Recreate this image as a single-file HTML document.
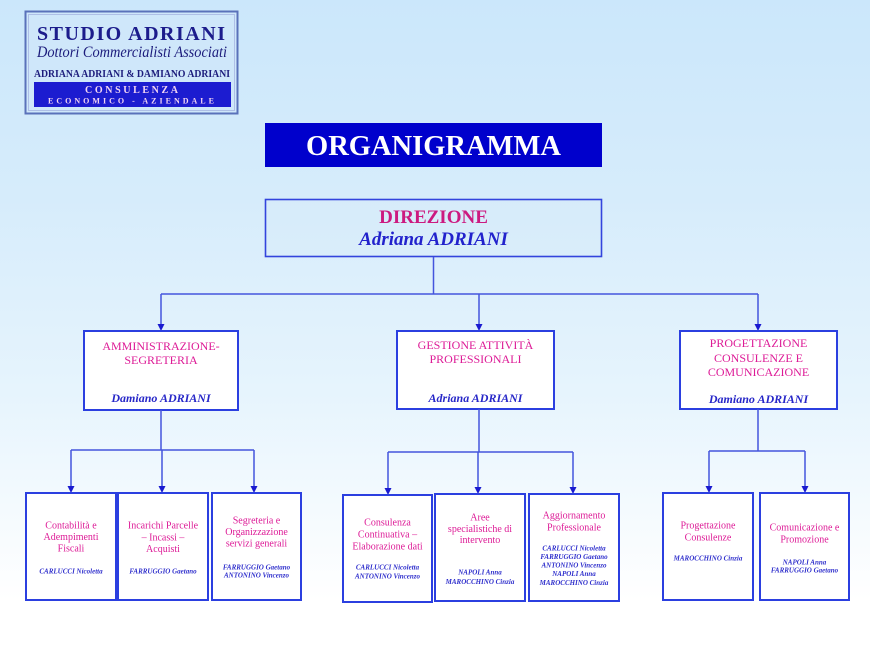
<!DOCTYPE html>
<html>
<head>
<meta charset="utf-8">
<style>
html,body{margin:0;padding:0;}
body{width:870px;height:653px;overflow:hidden;background:linear-gradient(to bottom,#cbe7fb 0%,#d6ecfb 30%,#e6f4fd 60%,#ffffff 92%,#ffffff 100%);}
svg{display:block;}
text{font-family:"Liberation Serif","DejaVu Serif",serif;}
.t{fill:#dd1a96;font-size:10px;}
.n{fill:#2f2fcc;font-size:7px;font-weight:bold;font-style:italic;}
.m{fill:#dd1a96;font-size:12px;}
.mn{fill:#2727c8;font-size:12px;font-weight:bold;font-style:italic;}
.box{fill:#ffffff;stroke:#2b3fe0;stroke-width:2;}
.ln{stroke:#4455dd;stroke-width:1.5;fill:none;}
.ar{fill:#1a1ad0;}
</style>
</head>
<body>
<svg width="870" height="653" viewBox="0 0 870 653" xmlns="http://www.w3.org/2000/svg">
  <!-- Logo -->
  <rect x="25.5" y="11.5" width="212" height="102" fill="#cfe7fa" stroke="#5a72ba" stroke-width="2"/>
  <rect x="28.5" y="14.5" width="206" height="96" fill="none" stroke="#aebfe6" stroke-width="1"/>
  <text x="131" y="40" text-anchor="middle" font-size="20" font-weight="bold" fill="#1c1c8c" textLength="188" lengthAdjust="spacing">STUDIO ADRIANI</text>
  <text x="132" y="57" text-anchor="middle" font-size="16" font-style="italic" fill="#1c1c7c" textLength="190" lengthAdjust="spacingAndGlyphs">Dottori Commercialisti Associati</text>
  <text x="132" y="77" text-anchor="middle" font-size="10" font-weight="bold" fill="#1c1c7c" textLength="196" lengthAdjust="spacingAndGlyphs">ADRIANA ADRIANI &amp; DAMIANO ADRIANI</text>
  <rect x="34" y="82" width="197" height="25" fill="#1c1cd0"/>
  <text x="131.5" y="93" text-anchor="middle" font-size="10" font-weight="bold" fill="#f2d4f2" textLength="93" lengthAdjust="spacing">CONSULENZA</text>
  <text x="131" y="103.5" text-anchor="middle" font-size="8" font-weight="bold" fill="#f2d4f2" textLength="166" lengthAdjust="spacing">ECONOMICO - AZIENDALE</text>

  <!-- Title -->
  <rect x="265" y="123" width="337" height="44" fill="#0000cc"/>
  <text x="433.5" y="155" text-anchor="middle" font-size="28.5" font-weight="bold" fill="#ffffff">ORGANIGRAMMA</text>

  <!-- Direzione -->
  <rect x="265.5" y="199.5" width="336" height="57" fill="#d8ecfb" fill-opacity="0.4" stroke="#3344dd" stroke-width="1.6"/>
  <text x="433.5" y="223" text-anchor="middle" font-size="19" font-weight="bold" fill="#cc1a80">DIREZIONE</text>
  <text x="433.5" y="245" text-anchor="middle" font-size="19" font-weight="bold" font-style="italic" fill="#2222cc">Adriana ADRIANI</text>

  <!-- Level 1 connectors -->
  <path class="ln" d="M433.5 257 V294 M161 294 H758 M161 294 V325 M479 294 V325 M758 294 V325"/>
  <polygon class="ar" points="157.5,324 164.5,324 161,331"/>
  <polygon class="ar" points="475.5,324 482.5,324 479,331"/>
  <polygon class="ar" points="754.5,324 761.5,324 758,331"/>

  <!-- Mid boxes -->
  <rect class="box" x="84" y="331" width="154" height="79"/>
  <text class="m" x="161" y="350" text-anchor="middle">AMMINISTRAZIONE-</text>
  <text class="m" x="161" y="364" text-anchor="middle">SEGRETERIA</text>
  <text class="mn" x="161" y="402" text-anchor="middle">Damiano ADRIANI</text>

  <rect class="box" x="397" y="331" width="157" height="78"/>
  <text class="m" x="475.5" y="349" text-anchor="middle">GESTIONE ATTIVITÀ</text>
  <text class="m" x="475.5" y="363" text-anchor="middle">PROFESSIONALI</text>
  <text class="mn" x="475.5" y="402" text-anchor="middle">Adriana ADRIANI</text>

  <rect class="box" x="680" y="331" width="157" height="78"/>
  <text class="m" x="758.5" y="347" text-anchor="middle">PROGETTAZIONE</text>
  <text class="m" x="758.5" y="362" text-anchor="middle">CONSULENZE E</text>
  <text class="m" x="758.5" y="376" text-anchor="middle">COMUNICAZIONE</text>
  <text class="mn" x="758.5" y="403" text-anchor="middle">Damiano ADRIANI</text>

  <!-- Level 2 connectors -->
  <path class="ln" d="M161 410 V450 M71 450 H254 M71 450 V486 M162 450 V486 M254 450 V486"/>
  <polygon class="ar" points="67.5,486 74.5,486 71,493"/>
  <polygon class="ar" points="158.5,486 165.5,486 162,493"/>
  <polygon class="ar" points="250.5,486 257.5,486 254,493"/>

  <path class="ln" d="M479 409 V452 M388 452 H573 M388 452 V488 M478 452 V487 M573 452 V487"/>
  <polygon class="ar" points="384.5,488 391.5,488 388,495"/>
  <polygon class="ar" points="474.5,487 481.5,487 478,494"/>
  <polygon class="ar" points="569.5,487 576.5,487 573,494"/>

  <path class="ln" d="M758 409 V451 M709 451 H805 M709 451 V486 M805 451 V486"/>
  <polygon class="ar" points="705.5,486 712.5,486 709,493"/>
  <polygon class="ar" points="801.5,486 808.5,486 805,493"/>

  <!-- Bottom boxes -->
  <rect class="box" x="26" y="493" width="90" height="107"/>
  <text class="t" x="71" y="528.5" text-anchor="middle">Contabilità e</text>
  <text class="t" x="71" y="540" text-anchor="middle">Adempimenti</text>
  <text class="t" x="71" y="551.5" text-anchor="middle">Fiscali</text>
  <text class="n" x="71" y="573.5" text-anchor="middle">CARLUCCI Nicoletta</text>

  <rect class="box" x="118" y="493" width="90" height="107"/>
  <text class="t" x="163" y="528.5" text-anchor="middle">Incarichi Parcelle</text>
  <text class="t" x="163" y="540.5" text-anchor="middle">– Incassi –</text>
  <text class="t" x="163" y="552" text-anchor="middle">Acquisti</text>
  <text class="n" x="163" y="573.5" text-anchor="middle">FARRUGGIO Gaetano</text>

  <rect class="box" x="212" y="493" width="89" height="107"/>
  <text class="t" x="256.5" y="523.5" text-anchor="middle">Segreteria e</text>
  <text class="t" x="256.5" y="535" text-anchor="middle">Organizzazione</text>
  <text class="t" x="256.5" y="546.5" text-anchor="middle">servizi generali</text>
  <text class="n" x="256.5" y="569.5" text-anchor="middle">FARRUGGIO Gaetano</text>
  <text class="n" x="256.5" y="577.5" text-anchor="middle">ANTONINO Vincenzo</text>

  <rect class="box" x="343" y="495" width="89" height="107"/>
  <text class="t" x="387.5" y="525.5" text-anchor="middle">Consulenza</text>
  <text class="t" x="387.5" y="537.5" text-anchor="middle">Continuativa –</text>
  <text class="t" x="387.5" y="549.5" text-anchor="middle">Elaborazione dati</text>
  <text class="n" x="387.5" y="569.5" text-anchor="middle">CARLUCCI Nicoletta</text>
  <text class="n" x="387.5" y="578.5" text-anchor="middle">ANTONINO Vincenzo</text>

  <rect class="box" x="435" y="494" width="90" height="107"/>
  <text class="t" x="480" y="520.5" text-anchor="middle">Aree</text>
  <text class="t" x="480" y="532" text-anchor="middle">specialistiche di</text>
  <text class="t" x="480" y="543" text-anchor="middle">intervento</text>
  <text class="n" x="480" y="574.5" text-anchor="middle">NAPOLI Anna</text>
  <text class="n" x="480" y="584" text-anchor="middle">MAROCCHINO Cinzia</text>

  <rect class="box" x="529" y="494" width="90" height="107"/>
  <text class="t" x="574" y="518.5" text-anchor="middle">Aggiornamento</text>
  <text class="t" x="574" y="530.5" text-anchor="middle">Professionale</text>
  <text class="n" x="574" y="550.5" text-anchor="middle">CARLUCCI  Nicoletta</text>
  <text class="n" x="574" y="559" text-anchor="middle">FARRUGGIO Gaetano</text>
  <text class="n" x="574" y="567.5" text-anchor="middle">ANTONINO Vincenzo</text>
  <text class="n" x="574" y="576" text-anchor="middle">NAPOLI Anna</text>
  <text class="n" x="574" y="585" text-anchor="middle">MAROCCHINO Cinzia</text>

  <rect class="box" x="663" y="493" width="90" height="107"/>
  <text class="t" x="708" y="528.5" text-anchor="middle">Progettazione</text>
  <text class="t" x="708" y="540.5" text-anchor="middle">Consulenze</text>
  <text class="n" x="708" y="560.5" text-anchor="middle">MAROCCHINO Cinzia</text>

  <rect class="box" x="760" y="493" width="89" height="107"/>
  <text class="t" x="804.5" y="530.5" text-anchor="middle">Comunicazione e</text>
  <text class="t" x="804.5" y="542.5" text-anchor="middle">Promozione</text>
  <text class="n" x="804.5" y="564.5" text-anchor="middle">NAPOLI Anna</text>
  <text class="n" x="804.5" y="572.5" text-anchor="middle">FARRUGGIO Gaetano</text>
</svg>
</body>
</html>
